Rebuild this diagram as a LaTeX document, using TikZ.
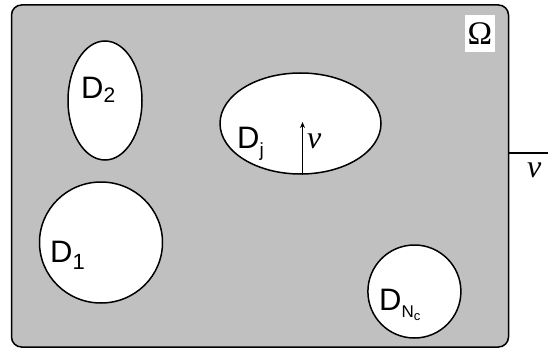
\documentclass[tikz,border=0pt]{standalone}
\usepackage{fontspec}
\setmainfont{Liberation Sans}
\newfontfamily\serifgr{Liberation Serif}
\usetikzlibrary{shapes.geometric,arrows.meta}
\definecolor{domgray}{RGB}{192,192,192}
\newcommand{\lowsub}[3]{\raisebox{-#1}{\fontsize{#2}{#2}\selectfont #3}}
\tikzset{
  hole/.style={ellipse, draw=black, line width=1.5pt, fill=white, inner sep=0pt},
  lab/.style={font=\fontsize{31}{31}\selectfont, inner sep=0pt, anchor=base west},
  grk/.style={font=\serifgr\fontsize{32}{32}\selectfont, inner sep=0pt}
}
\begin{document}
\begin{tikzpicture}[x=1pt,y=-1pt]
\useasboundingbox (0,0) rectangle (548,350);
\node[draw=black, line width=1.5pt, fill=domgray, rounded corners=10pt, minimum width=497pt, minimum height=342pt, inner sep=0pt] (omega) at (260,176) {};
\node[fill=white, inner sep=0pt, minimum width=30pt, minimum height=37pt] (omlab) at (480,34) {\serifgr\fontsize{33}{33}\selectfont Ω};
\node[hole, minimum width=74pt, minimum height=119pt] (d2) at (105,100.5) {};
\node[hole, minimum width=161pt, minimum height=101pt] (dj) at (300.5,123.5) {};
\node[hole, minimum width=123pt, minimum height=121pt] (d1) at (101,242.5) {};
\node[hole, minimum width=93pt, minimum height=93pt] (dn) at (414.4,291.5) {};
\node[lab] (d2lab) at (81,99) {D\lowsub{4pt}{21}{2}};
\node[lab] (djlab) at (237,148) {D\lowsub{8pt}{19}{j}};
\node[lab] (d1lab) at (50,262) {D\lowsub{7pt}{22}{1}};
\node[lab] (dnlab) at (379,310) {D\lowsub{7pt}{17}{N\lowsub{3pt}{13}{c}}};
\coordinate (atip) at (302.5,122);
\draw[line width=1.5pt, -{Stealth[length=6pt,width=5pt]}] (dj.south -| atip) -- (atip);
\node[grk, anchor=base west] (nu1) at (307,148) {\itshape ν};
\coordinate (ext) at (548,153);
\draw[line width=1.5pt] (omega.east |- ext) -- (ext);
\node[grk, anchor=base west] (nu2) at (527,177) {\itshape ν};
\end{tikzpicture}
\end{document}
